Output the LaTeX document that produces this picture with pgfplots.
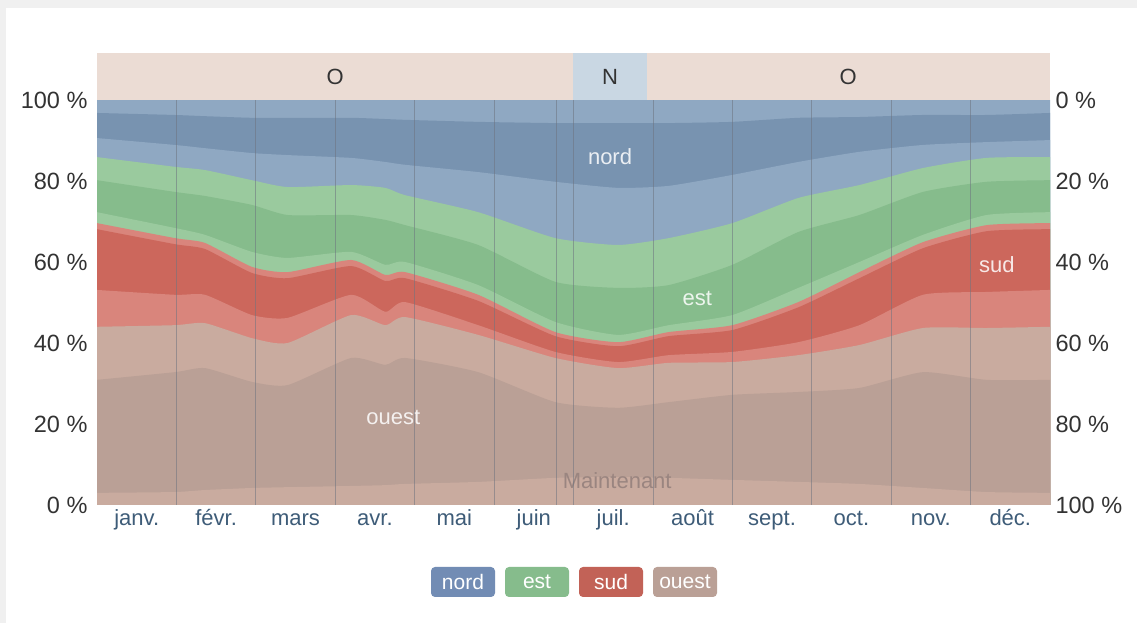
\documentclass[border=0pt]{standalone}
\usepackage{pgfplots}
\pgfplotsset{compat=1.18}
\usepackage{pgfplotstable}
\usepackage{fontspec}
\setmainfont{Liberation Sans}
\definecolor{nordD}{HTML}{7893B0}
\definecolor{nordL}{HTML}{8FA8C2}
\definecolor{estD}{HTML}{86BC8C}
\definecolor{estL}{HTML}{9ACA9E}
\definecolor{sudD}{HTML}{CC675C}
\definecolor{sudL}{HTML}{D9857C}
\definecolor{ouestD}{HTML}{BAA096}
\definecolor{ouestL}{HTML}{C9AB9F}
\definecolor{hdrO}{HTML}{EBDCD4}
\definecolor{hdrN}{HTML}{C9D7E3}
\definecolor{monthc}{HTML}{3E5C78}
\definecolor{tickc}{HTML}{333333}
\definecolor{gridc}{HTML}{6E7480}
\definecolor{nowc}{HTML}{9A8580}
\pgfplotstableread{
x b1 b2 b3 b4 b5 b6 b7 b8 b9 b10 b11
0 96.8 90.6 85.9 80.2 72.3 69.6 68.1 53.1 44.0 30.9 3.0
0.98 96.3 88.9 83.5 77.3 68.4 65.9 64.4 51.9 44.4 32.8 3.2
1.36 96.0 88.1 82.7 76.3 66.7 64.7 63.2 51.9 44.9 33.8 3.7
1.95 95.6 86.9 80.2 74.1 62.5 58.8 57.3 46.9 41.2 30.4 4.2
2.4 95.6 86.4 78.5 71.6 61.0 57.5 56.0 46.2 40.0 29.6 4.4
3.2 95.6 85.7 79.0 71.6 62.5 60.5 59.0 51.9 46.9 36.3 4.7
3.63 95.3 84.7 78.3 70.4 59.3 56.8 55.3 47.7 44.4 34.6 4.9
3.88 95.1 84.0 76.5 69.1 60.0 57.5 56.0 50.1 46.4 36.3 5.2
4.8 94.6 82.2 72.3 64.2 54.3 51.9 50.4 44.4 42.0 32.8 5.7
5.77 94.3 79.8 65.9 55.1 45.2 42.7 41.7 37.8 36.3 25.4 6.7
6.56 94.3 78.3 64.2 53.6 42.0 40.2 39.2 35.3 33.8 24.0 6.9
7.2 94.3 78.8 65.9 54.3 44.4 42.7 41.7 37.0 35.1 25.4 6.7
8.0 94.6 81.5 69.6 59.3 46.9 44.4 43.2 37.8 35.3 27.2 6.2
8.83 95.6 84.7 75.8 67.4 53.6 50.1 48.8 40.2 37.0 27.9 5.7
9.6 95.8 87.2 79.0 71.6 60.0 57.5 56.0 44.4 39.5 28.9 5.2
10.4 96.3 88.9 83.2 77.3 66.7 64.9 63.4 51.9 43.7 32.8 4.2
11.2 96.3 89.6 85.7 79.8 71.6 69.1 67.6 52.6 43.7 30.9 3.2
12 96.8 90.1 85.9 80.2 72.3 69.6 68.1 53.1 44.0 30.9 3.0
}\data
\begin{document}
\begin{tikzpicture}[x=1pt,y=1pt]
\fill[white] (0,0) rectangle (1137,623);
\fill[black!6] (0,0) rectangle (6,623);
\fill[black!6] (0,615) rectangle (1137,623);
\begin{axis}[
  at={(97pt,118pt)}, anchor=south west,
  scale only axis, width=953pt, height=405pt,
  xmin=0, xmax=12, ymin=0, ymax=100,
  clip=false, axis on top,
  axis line style={draw=none},
  major tick length=0pt,
  xtick={1,2,3,4,5,5.79,6,7,8,9,10,11},
  xticklabels={},
  xmajorgrids,
  grid style={gridc, opacity=0.55, line width=0.8pt},
  extra x ticks={0.5,1.5,...,11.5},
  extra x tick labels={janv.,févr.,mars,avr.,mai,juin,juil.,août,sept.,oct.,nov.,déc.},
  extra x tick style={grid=none, xticklabel style={font=\fontsize{22}{26}\selectfont, text=monthc, anchor=north, text height=17pt, text depth=5pt, yshift=0pt}},
  ytick={0,20,40,60,80,100},
  yticklabels={0 \%,20 \%,40 \%,60 \%,80 \%,100 \%},
  yticklabel style={font=\fontsize{23.5}{26}\selectfont, text=tickc, anchor=east, xshift=-6pt},
  every axis plot/.append style={draw=none, smooth, tension=0.35},
]
\addplot[fill=nordL] coordinates {(0,100) (12,100)} \closedcycle;
\addplot[fill=nordD] table[x=x,y=b1] {\data} \closedcycle;
\addplot[fill=nordL] table[x=x,y=b2] {\data} \closedcycle;
\addplot[fill=estL] table[x=x,y=b3] {\data} \closedcycle;
\addplot[fill=estD] table[x=x,y=b4] {\data} \closedcycle;
\addplot[fill=estL] table[x=x,y=b5] {\data} \closedcycle;
\addplot[fill=sudL] table[x=x,y=b6] {\data} \closedcycle;
\addplot[fill=sudD] table[x=x,y=b7] {\data} \closedcycle;
\addplot[fill=sudL] table[x=x,y=b8] {\data} \closedcycle;
\addplot[fill=ouestL] table[x=x,y=b9] {\data} \closedcycle;
\addplot[fill=ouestD] table[x=x,y=b10] {\data} \closedcycle;
\addplot[fill=ouestL] table[x=x,y=b11] {\data} \closedcycle;
% header band
\fill[hdrO] (axis cs:0,100) rectangle (axis cs:12,111.6);
\fill[hdrN] (axis cs:5.99,100) rectangle (axis cs:6.93,111.6);
\node[font=\fontsize{22}{26}\selectfont, text=tickc] at (axis cs:3.0,105.8) {O};
\node[font=\fontsize{22}{26}\selectfont, text=tickc] at (axis cs:6.46,105.8) {N};
\node[font=\fontsize{22}{26}\selectfont, text=tickc] at (axis cs:9.46,105.8) {O};
% in-area labels
\node[font=\fontsize{22}{26}\selectfont, text=white, opacity=0.85] at (axis cs:6.46,85.9) {nord};
\node[font=\fontsize{22}{26}\selectfont, text=white, opacity=0.85] at (axis cs:7.56,51.1) {est};
\node[font=\fontsize{22}{26}\selectfont, text=white, opacity=0.85] at (axis cs:11.33,59.3) {sud};
\node[font=\fontsize{22}{26}\selectfont, text=white, opacity=0.85] at (axis cs:3.73,21.5) {ouest};
\node[font=\fontsize{22}{26}\selectfont, text=nowc] at (axis cs:6.55,5.9) {Maintenant};
\end{axis}
\begin{axis}[
  at={(97pt,118pt)}, anchor=south west,
  scale only axis, width=953pt, height=405pt,
  xmin=0, xmax=12, ymin=0, ymax=100, y dir=reverse,
  hide x axis, axis y line*=right,
  axis line style={draw=none},
  major tick length=0pt,
  ytick={0,20,40,60,80,100},
  yticklabels={0 \%,20 \%,40 \%,60 \%,80 \%,100 \%},
  yticklabel style={font=\fontsize{23.5}{26}\selectfont, text=tickc, anchor=west, xshift=2pt},
]
\end{axis}
\tikzset{badge/.style={rounded corners=4pt, minimum width=64pt, minimum height=30pt, inner sep=0pt, text=white, font=\fontsize{21}{24}\selectfont}}
\node[badge, fill=nordD!95!blue] at (463,41) {nord};
\node[badge, fill=estD] at (537,41) {est};
\node[badge, fill=sudD!95!black] at (611,41) {sud};
\node[badge, fill=ouestD] at (685,41) {ouest};
\end{tikzpicture}
\end{document}
